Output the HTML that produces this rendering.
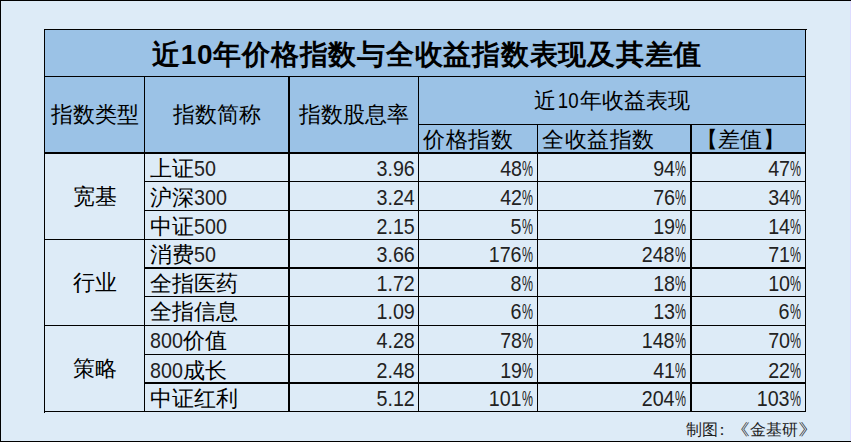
<!DOCTYPE html>
<html><head><meta charset="utf-8"><style>
html,body{margin:0;padding:0;}
body{width:851px;height:442px;overflow:hidden;background:#DDEBF7;position:relative;font-family:"Liberation Sans",sans-serif;color:#000;}
.b{position:absolute;}
.t{position:absolute;font-size:22px;white-space:nowrap;}
.title{font-size:28px;font-weight:bold;letter-spacing:0.75px;}
.n{display:inline-block;font-size:22.5px;transform:scaleX(0.875);transform-origin:right center;position:relative;top:0px;color:#222;}
.p{display:inline-block;font-size:22.5px;width:11px;transform:scaleX(0.55);transform-origin:left center;position:relative;top:0px;color:#222;}
.nl{display:inline-block;font-size:22.5px;transform:scaleX(0.875);transform-origin:left center;position:relative;top:0px;color:#222;}
.tn{}
.hn{display:inline-block;transform:scaleX(0.85);}
.foot{font-size:16px;color:#222;}
</style></head><body>
<div class="b" style="left:45px;top:30px;width:760px;height:122px;background:#9BC2E6"></div><div class="b" style="left:850px;top:1px;width:1px;height:440px;background:#DDDCFF"></div><div class="b" style="left:0px;top:0px;width:851px;height:1px;background:#000"></div><div class="b" style="left:0px;top:0px;width:1px;height:442px;background:#000"></div><div class="b" style="left:0px;top:441px;width:851px;height:1px;background:#000"></div><div class="b" style="left:44px;top:29px;width:763px;height:1px;background:#000"></div><div class="b" style="left:44px;top:76px;width:762px;height:1px;background:#000"></div><div class="b" style="left:418px;top:124px;width:388px;height:1px;background:#000"></div><div class="b" style="left:44px;top:152px;width:762px;height:2px;background:#000"></div><div class="b" style="left:144px;top:181px;width:662px;height:1px;background:#000"></div><div class="b" style="left:144px;top:210px;width:662px;height:1px;background:#000"></div><div class="b" style="left:144px;top:296px;width:662px;height:1px;background:#000"></div><div class="b" style="left:144px;top:354px;width:662px;height:1px;background:#000"></div><div class="b" style="left:144px;top:267px;width:662px;height:2px;background:#000"></div><div class="b" style="left:144px;top:382px;width:662px;height:2px;background:#000"></div><div class="b" style="left:44px;top:239px;width:762px;height:1px;background:#000"></div><div class="b" style="left:44px;top:325px;width:762px;height:1px;background:#000"></div><div class="b" style="left:44px;top:411px;width:762px;height:1px;background:#000"></div><div class="b" style="left:44px;top:29px;width:1px;height:384px;background:#000"></div><div class="b" style="left:805px;top:29px;width:1px;height:383px;background:#000"></div><div class="b" style="left:144px;top:76px;width:1px;height:336px;background:#000"></div><div class="b" style="left:288px;top:76px;width:2px;height:336px;background:#000"></div><div class="b" style="left:418px;top:76px;width:1px;height:336px;background:#000"></div><div class="b" style="left:537px;top:124px;width:1px;height:288px;background:#000"></div><div class="b" style="left:690px;top:124px;width:2px;height:288px;background:#000"></div>
<div class="t title" style="left:47px;top:32px;width:760px;height:46px;line-height:46px;text-align:center;">近<span class="tn">10</span>年价格指数与全收益指数表现及其差值</div><div class="t " style="left:45px;top:77px;width:99px;height:75px;line-height:75px;text-align:center;">指数类型</div><div class="t " style="left:145px;top:77px;width:143px;height:75px;line-height:75px;text-align:center;">指数简称</div><div class="t " style="left:290px;top:77px;width:128px;height:75px;line-height:75px;text-align:center;">指数股息率</div><div class="t " style="left:419px;top:77px;width:386px;height:47px;line-height:47px;text-align:center;">近<span class="hn">10</span>年收益表现</div><div class="t " style="left:423px;top:126px;width:114px;height:27px;line-height:27px;text-align:left;letter-spacing:0.6px">价格指数</div><div class="t " style="left:542px;top:126px;width:148px;height:27px;line-height:27px;text-align:left;letter-spacing:0.6px">全收益指数</div><div class="t " style="left:696px;top:126px;width:109px;height:27px;line-height:27px;text-align:left;letter-spacing:0.2px">【差值】</div><div class="t " style="left:150px;top:155px;width:138px;height:27px;line-height:27px;text-align:left;">上证<span class="nl" style="margin-right:-3.13px">50</span></div><div class="t " style="left:290px;top:155px;width:125px;height:27px;line-height:27px;text-align:right;"><span class="n">3.96</span></div><div class="t " style="left:419px;top:155px;width:114px;height:27px;line-height:27px;text-align:right;"><span class="n">48</span><span class="p">%</span></div><div class="t " style="left:538px;top:155px;width:148px;height:27px;line-height:27px;text-align:right;"><span class="n">94</span><span class="p">%</span></div><div class="t " style="left:692px;top:155px;width:109px;height:27px;line-height:27px;text-align:right;"><span class="n">47</span><span class="p">%</span></div><div class="t " style="left:150px;top:184px;width:138px;height:28px;line-height:28px;text-align:left;">沪深<span class="nl" style="margin-right:-4.70px">300</span></div><div class="t " style="left:290px;top:184px;width:125px;height:28px;line-height:28px;text-align:right;"><span class="n">3.24</span></div><div class="t " style="left:419px;top:184px;width:114px;height:28px;line-height:28px;text-align:right;"><span class="n">42</span><span class="p">%</span></div><div class="t " style="left:538px;top:184px;width:148px;height:28px;line-height:28px;text-align:right;"><span class="n">76</span><span class="p">%</span></div><div class="t " style="left:692px;top:184px;width:109px;height:28px;line-height:28px;text-align:right;"><span class="n">34</span><span class="p">%</span></div><div class="t " style="left:150px;top:213px;width:138px;height:28px;line-height:28px;text-align:left;">中证<span class="nl" style="margin-right:-4.70px">500</span></div><div class="t " style="left:290px;top:213px;width:125px;height:28px;line-height:28px;text-align:right;"><span class="n">2.15</span></div><div class="t " style="left:419px;top:213px;width:114px;height:28px;line-height:28px;text-align:right;"><span class="n">5</span><span class="p">%</span></div><div class="t " style="left:538px;top:213px;width:148px;height:28px;line-height:28px;text-align:right;"><span class="n">19</span><span class="p">%</span></div><div class="t " style="left:692px;top:213px;width:109px;height:28px;line-height:28px;text-align:right;"><span class="n">14</span><span class="p">%</span></div><div class="t " style="left:150px;top:241px;width:138px;height:27px;line-height:27px;text-align:left;">消费<span class="nl" style="margin-right:-3.13px">50</span></div><div class="t " style="left:290px;top:241px;width:125px;height:27px;line-height:27px;text-align:right;"><span class="n">3.66</span></div><div class="t " style="left:419px;top:241px;width:114px;height:27px;line-height:27px;text-align:right;"><span class="n">176</span><span class="p">%</span></div><div class="t " style="left:538px;top:241px;width:148px;height:27px;line-height:27px;text-align:right;"><span class="n">248</span><span class="p">%</span></div><div class="t " style="left:692px;top:241px;width:109px;height:27px;line-height:27px;text-align:right;"><span class="n">71</span><span class="p">%</span></div><div class="t " style="left:150px;top:270px;width:138px;height:27px;line-height:27px;text-align:left;">全指医药</div><div class="t " style="left:290px;top:270px;width:125px;height:27px;line-height:27px;text-align:right;"><span class="n">1.72</span></div><div class="t " style="left:419px;top:270px;width:114px;height:27px;line-height:27px;text-align:right;"><span class="n">8</span><span class="p">%</span></div><div class="t " style="left:538px;top:270px;width:148px;height:27px;line-height:27px;text-align:right;"><span class="n">18</span><span class="p">%</span></div><div class="t " style="left:692px;top:270px;width:109px;height:27px;line-height:27px;text-align:right;"><span class="n">10</span><span class="p">%</span></div><div class="t " style="left:150px;top:298px;width:138px;height:28px;line-height:28px;text-align:left;">全指信息</div><div class="t " style="left:290px;top:298px;width:125px;height:28px;line-height:28px;text-align:right;"><span class="n">1.09</span></div><div class="t " style="left:419px;top:298px;width:114px;height:28px;line-height:28px;text-align:right;"><span class="n">6</span><span class="p">%</span></div><div class="t " style="left:538px;top:298px;width:148px;height:28px;line-height:28px;text-align:right;"><span class="n">13</span><span class="p">%</span></div><div class="t " style="left:692px;top:298px;width:109px;height:28px;line-height:28px;text-align:right;"><span class="n">6</span><span class="p">%</span></div><div class="t " style="left:150px;top:327px;width:138px;height:28px;line-height:28px;text-align:left;"><span class="nl" style="margin-right:-4.70px">800</span>价值</div><div class="t " style="left:290px;top:327px;width:125px;height:28px;line-height:28px;text-align:right;"><span class="n">4.28</span></div><div class="t " style="left:419px;top:327px;width:114px;height:28px;line-height:28px;text-align:right;"><span class="n">78</span><span class="p">%</span></div><div class="t " style="left:538px;top:327px;width:148px;height:28px;line-height:28px;text-align:right;"><span class="n">148</span><span class="p">%</span></div><div class="t " style="left:692px;top:327px;width:109px;height:28px;line-height:28px;text-align:right;"><span class="n">70</span><span class="p">%</span></div><div class="t " style="left:150px;top:357px;width:138px;height:27px;line-height:27px;text-align:left;"><span class="nl" style="margin-right:-4.70px">800</span>成长</div><div class="t " style="left:290px;top:357px;width:125px;height:27px;line-height:27px;text-align:right;"><span class="n">2.48</span></div><div class="t " style="left:419px;top:357px;width:114px;height:27px;line-height:27px;text-align:right;"><span class="n">19</span><span class="p">%</span></div><div class="t " style="left:538px;top:357px;width:148px;height:27px;line-height:27px;text-align:right;"><span class="n">41</span><span class="p">%</span></div><div class="t " style="left:692px;top:357px;width:109px;height:27px;line-height:27px;text-align:right;"><span class="n">22</span><span class="p">%</span></div><div class="t " style="left:150px;top:385px;width:138px;height:27px;line-height:27px;text-align:left;">中证红利</div><div class="t " style="left:290px;top:385px;width:125px;height:27px;line-height:27px;text-align:right;"><span class="n">5.12</span></div><div class="t " style="left:419px;top:385px;width:114px;height:27px;line-height:27px;text-align:right;"><span class="n">101</span><span class="p">%</span></div><div class="t " style="left:538px;top:385px;width:148px;height:27px;line-height:27px;text-align:right;"><span class="n">204</span><span class="p">%</span></div><div class="t " style="left:692px;top:385px;width:109px;height:27px;line-height:27px;text-align:right;"><span class="n">103</span><span class="p">%</span></div><div class="t " style="left:45px;top:154px;width:99px;height:85px;line-height:85px;text-align:center;">宽基</div><div class="t " style="left:45px;top:240px;width:99px;height:85px;line-height:85px;text-align:center;">行业</div><div class="t " style="left:45px;top:326px;width:99px;height:85px;line-height:85px;text-align:center;">策略</div><div class="t foot" style="left:686px;top:418px;width:130px;height:24px;line-height:24px;text-align:left;">制图<span style="position:relative;left:-4.5px">：</span><span style="display:inline-block;transform:scaleX(1.25);transform-origin:right center">《</span>金基研<span style="display:inline-block;transform:scaleX(1.3);transform-origin:left center">》</span></div>
</body></html>
